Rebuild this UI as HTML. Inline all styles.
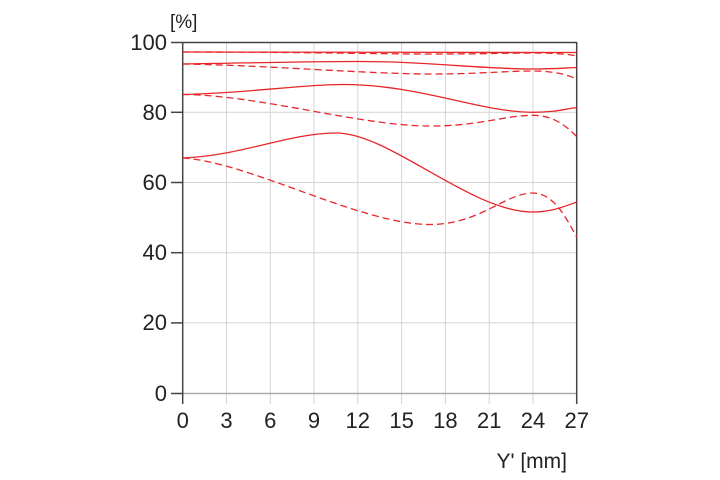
<!DOCTYPE html>
<html><head><meta charset="utf-8"><style>
html,body{margin:0;padding:0;background:#fff;}
svg{display:block;}
text{font-family:"Liberation Sans",sans-serif;fill:#222;}
</style></head><body>
<svg width="720" height="480" viewBox="0 0 720 480" xmlns="http://www.w3.org/2000/svg">
<g stroke="#d4d4d4" stroke-width="1">
<line x1="226.5" y1="43" x2="226.5" y2="404"/>
<line x1="270.3" y1="43" x2="270.3" y2="404"/>
<line x1="314" y1="43" x2="314" y2="404"/>
<line x1="357.8" y1="43" x2="357.8" y2="404"/>
<line x1="401.6" y1="43" x2="401.6" y2="404"/>
<line x1="445.4" y1="43" x2="445.4" y2="404"/>
<line x1="489.2" y1="43" x2="489.2" y2="404"/>
<line x1="533" y1="43" x2="533" y2="404"/>
<line x1="182.7" y1="112.3" x2="576.7" y2="112.3"/>
<line x1="182.7" y1="182.5" x2="576.7" y2="182.5"/>
<line x1="182.7" y1="252.7" x2="576.7" y2="252.7"/>
<line x1="182.7" y1="322.9" x2="576.7" y2="322.9"/>
</g>
<line x1="182.7" y1="393.5" x2="576.7" y2="393.5" stroke="#aaa" stroke-width="1.5"/>
<g stroke="#444" stroke-width="1.5">
<line x1="182.7" y1="42" x2="182.7" y2="404"/>
<line x1="576.7" y1="42" x2="576.7" y2="404"/>
<line x1="182.7" y1="42.5" x2="576.7" y2="42.5"/>
<line x1="171" y1="42.5" x2="182.7" y2="42.5"/>
<line x1="171" y1="112.3" x2="182.7" y2="112.3"/>
<line x1="171" y1="182.5" x2="182.7" y2="182.5"/>
<line x1="171" y1="252.7" x2="182.7" y2="252.7"/>
<line x1="171" y1="322.9" x2="182.7" y2="322.9"/>
<line x1="171" y1="393.5" x2="182.7" y2="393.5"/>
</g>
<g fill="none" stroke="#e8262a" stroke-width="1.3">
<path d="M182.7,52 L576.7,52.5"/>
<path d="M182.7,64 C250,63 300,61.5 357.8,61.5 C430,61.5 480,69 533,69 C553,69 565,68 576.7,67.5"/>
<path d="M182.7,94.5 C250,93 300,84.5 343,84.5 C420,84.5 480,112.3 533,112.3 C555,112.3 565,109 576.7,107.5"/>
<path d="M182.7,158 C240,156 290,133 336,133 C390,133 470,212 533,212 C552,212 566,206 576.7,202"/>
<g stroke-dasharray="7,4">
<path d="M182.7,52 C300,52 380,54 430,54 C480,54 510,53 533,53 C555,53 568,54 576.7,56"/>
<path d="M182.7,64 C260,65 370,74 430,74 C480,74 505,71 533,71 C555,71 568,75 576.7,79"/>
<path d="M182.7,94.5 C260,95 360,126 430,126 C480,126 505,115.3 533,115.3 C555,115.3 568,128 576.7,136.5"/>
<path d="M182.7,158 C250,162 360,224.5 430,224.5 C480,224.5 505,193 533,193 C555,193 568,222 576.7,237"/>
</g>
</g>
<g font-size="22" text-anchor="end">
<text x="167" y="50">100</text>
<text x="167" y="120">80</text>
<text x="167" y="190">60</text>
<text x="167" y="260">40</text>
<text x="167" y="330">20</text>
<text x="167" y="401">0</text>
</g>
<g font-size="22" text-anchor="middle">
<text x="182.7" y="428">0</text>
<text x="226.5" y="428">3</text>
<text x="270.3" y="428">6</text>
<text x="314" y="428">9</text>
<text x="357.8" y="428">12</text>
<text x="401.6" y="428">15</text>
<text x="445.4" y="428">18</text>
<text x="489.2" y="428">21</text>
<text x="533" y="428">24</text>
<text x="576.7" y="428">27</text>
</g>
<text x="170" y="28" font-size="19">[%]</text>
<text x="567" y="468" font-size="21" text-anchor="end">Y' [mm]</text>
</svg>
</body></html>
